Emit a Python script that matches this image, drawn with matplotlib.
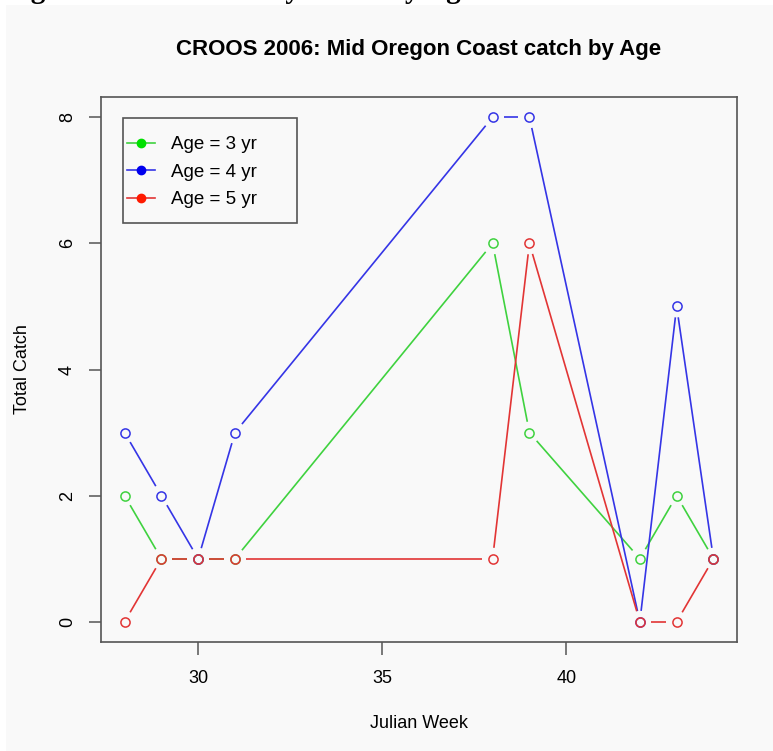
import numpy as np
import matplotlib.pyplot as plt
from matplotlib.patches import Rectangle
from matplotlib.lines import Line2D

plt.rcParams["font.family"] = ["Liberation Sans", "DejaVu Sans"]

weeks = [28, 29, 30, 31, 38, 39, 42, 43, 44]
age3 = [2, 1, 1, 1, 6, 3, 1, 2, 1]
age4 = [3, 2, 1, 3, 8, 8, 0, 5, 1]
age5 = [0, 1, 1, 1, 1, 6, 0, 0, 1]
labels = ["Age = 3 yr", "Age = 4 yr", "Age = 5 yr"]
line_colors = ["#3fd23f", "#3535e6", "#e23535"]
dot_colors = ["#00e000", "#0000ee", "#ff1a00"]

W, H = 773, 751
fig = plt.figure(figsize=(W / 100, H / 100), dpi=100)
fig.patch.set_facecolor("white")
panel = "#f9f9f9"
fig.add_artist(Rectangle((6 / W, 0), 1, 1 - 5 / H, transform=fig.transFigure,
                         facecolor=panel, edgecolor="none", zorder=0))
# cropped caption line from the source page (only its bottom edge shows)
fig.text(5 / W, 1 + 2 / H, "Figure 10. Total Weekly Catch by Age", ha="left", va="baseline",
         family="Liberation Serif", weight="bold", fontsize=21)

ax = fig.add_axes([101 / W, 1 - 642 / H, 636 / W, 545 / H])
ax.set_facecolor(panel)
ax.set_xlim(27.36, 44.64)
ax.set_ylim(-0.32, 8.32)


def plot_b(ax, x, y, color, gap=11):
    # R type="b": lines with gaps around the points
    pts = ax.transData.transform(np.column_stack([x, y]))
    inv = ax.transData.inverted()
    for p0, p1 in zip(pts[:-1], pts[1:]):
        d = p1 - p0
        L = np.hypot(*d)
        if L <= 2 * gap:
            continue
        u = d / L
        a = inv.transform(p0 + u * gap)
        b = inv.transform(p1 - u * gap)
        ax.plot([a[0], b[0]], [a[1], b[1]], color=color, lw=1.2, solid_capstyle="butt")
    ax.plot(x, y, ls="none", marker="o", ms=6.6, mfc="none", mec=color, mew=1.1)


for vals, c in zip([age3, age4, age5], line_colors):
    plot_b(ax, weeks, vals, c)

axis_col = "#555555"
for s in ax.spines.values():
    s.set_color(axis_col)
    s.set_linewidth(1.2)

ax.set_xticks([30, 35, 40])
ax.set_yticks([0, 2, 4, 6, 8])
ax.tick_params(axis="both", direction="out", length=9, width=1.1, color=axis_col,
               labelsize=13)
ax.tick_params(axis="x", pad=11)
ax.tick_params(axis="y", pad=9, labelrotation=90)
for t in ax.get_yticklabels():
    t.set_va("center")

ax.set_xlabel("Julian Week", fontsize=13, labelpad=20)
ax.set_ylabel("Total Catch", fontsize=13, labelpad=20)
fig.text(419 / W, 1 - 50 / H, "CROOS 2006: Mid Oregon Coast catch by Age",
         ha="center", va="center", fontsize=16, weight="bold")

# legend box
x0, y0, x1, y1 = 123, 118, 297, 223
ax.add_patch(Rectangle(((x0 - 101) / 636, (642 - y1) / 545), (x1 - x0) / 636, (y1 - y0) / 545,
                       transform=ax.transAxes, facecolor=panel, edgecolor=axis_col,
                       lw=1.2, zorder=5))
handles = [Line2D([], [], color=lc, lw=1.2, marker="o", ms=6, mfc=dc, mec=dc)
           for lc, dc in zip(line_colors, dot_colors)]
leg = ax.legend(handles, labels, loc="upper left", frameon=False,
                bbox_to_anchor=((127 - 101) / 636, (642 - 136) / 545),
                borderpad=0, borderaxespad=0, handlelength=1.5, handletextpad=0.85,
                labelspacing=0.56, fontsize=13.5)
leg.set_zorder(6)

fig.savefig("out.png", dpi=100, facecolor=fig.get_facecolor())
